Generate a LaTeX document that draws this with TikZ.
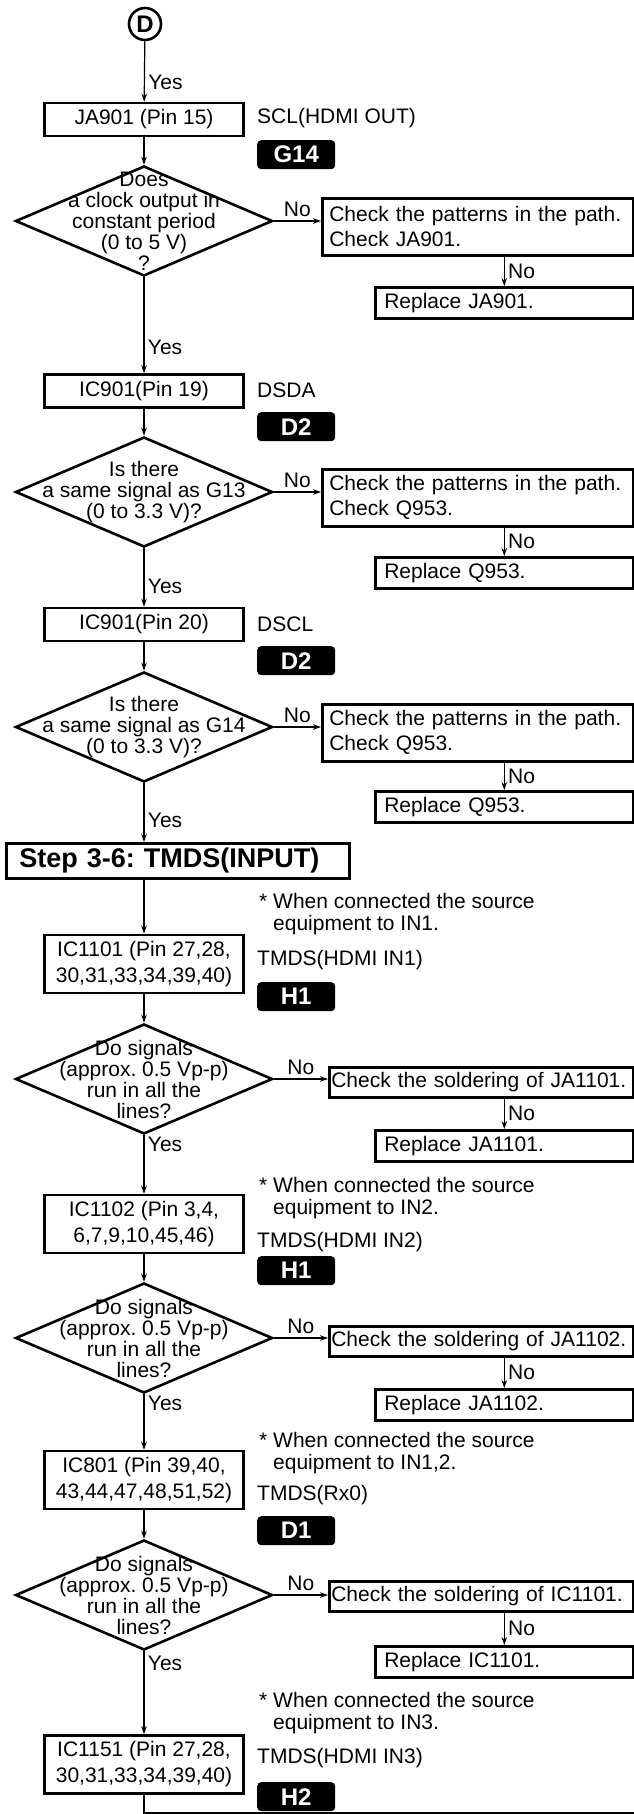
\documentclass[tikz,border=0pt]{standalone}
\usepackage{fontspec}
\setmainfont{Liberation Sans}
\usetikzlibrary{shapes.geometric,arrows.meta}

\begin{document}
\frenchspacing
\begin{tikzpicture}[x=1pt, y=-1pt, >={Stealth[length=8pt,width=5.5pt]},
	every node/.style={font=\fontsize{21}{25}\selectfont},
	flow/.style={->, line width=1.2pt},
	box/.style={draw, line width=2.6pt, minimum width=199pt, minimum height=33pt, inner sep=0pt, align=center},
	tallbox/.style={box, minimum height=58pt, font=\fontsize{21}{26}\selectfont},
	dia/.style={draw, diamond, line width=2.6pt, minimum width=257pt, minimum height=110pt, inner sep=0pt},
	diatext/.style={align=center, inner sep=0pt, font=\fontsize{21}{21}\selectfont},
	chkbox/.style={draw, line width=2.6pt, anchor=north west, minimum width=311pt, minimum height=57pt, inner xsep=7pt, inner ysep=0pt, text width=297pt, align=left},
	solbox/.style={draw, line width=2.6pt, anchor=north west, minimum width=304pt, minimum height=30pt, inner xsep=2pt, inner ysep=0pt, text width=300pt, align=left},
	repbox/.style={draw, line width=2.6pt, anchor=north west, minimum width=258pt, minimum height=31pt, inner xsep=9pt, inner ysep=0pt, text width=240pt, align=left},
	badge/.style={fill=black, rounded corners=4pt, anchor=north west, minimum width=78pt, minimum height=29pt, inner sep=0pt, text=white, font=\bfseries\fontsize{24}{24}\selectfont},
	side/.style={anchor=west, inner sep=0pt},
	note/.style={anchor=west, inner sep=0pt, align=left, font=\fontsize{21}{22}\selectfont}]
	\useasboundingbox (0,0) rectangle (634,1814);

	\node[circle, draw, line width=2.6pt, minimum size=32pt, inner sep=0pt, font=\bfseries\fontsize{24}{24}\selectfont] (D) at (145,24) {D};
	\node[box] (b1) at (144,119.5) {JA901 (Pin 15)};
	\node[side] (l1) at (257,118) {SCL(HDMI OUT)};
	\node[badge] (g1) at (257,140) {G14};
	\node[dia] (d1) at (144,221) {};
	\node[diatext] (t1) at (d1) {Does\\a clock output in\\constant period\\(0 to 5 V)\\?};
	\node[chkbox] (c1) at (321,197) {Check the patterns in the path.\\Check JA901.};
	\node[repbox] (r1) at (374,286) {Replace JA901.};

	\node[box] (b2) at (144,391) {IC901(Pin 19)};
	\node[side] (l2) at (257,390) {DSDA};
	\node[badge] (g2) at (257,412) {D2};
	\node[dia] (d2) at (144,492) {};
	\node[diatext] (t2) at (d2) {Is there\\a same signal as G13\\(0 to 3.3 V)?};
	\node[chkbox] (c2) at (321,468) {Check the patterns in the path.\\Check Q953.};
	\node[repbox] (r2) at (374,556) {Replace Q953.};

	\node[box] (b3) at (144,624.5) {IC901(Pin 20)};
	\node[side] (l3) at (257,624) {DSCL};
	\node[badge] (g3) at (257,646) {D2};
	\node[dia] (d3) at (144,727) {};
	\node[diatext] (t3) at (d3) {Is there\\a same signal as G14\\(0 to 3.3 V)?};
	\node[chkbox] (c3) at (321,703) {Check the patterns in the path.\\Check Q953.};
	\node[repbox] (r3) at (374,790) {Replace Q953.};

	\node[draw, line width=2.6pt, anchor=north west, minimum width=343pt, minimum height=35pt, inner xsep=13pt, inner ysep=0pt, text width=317pt, align=left, font=\bfseries\fontsize{27}{27}\selectfont] (step) at (5,842) {Step 3-6: TMDS(INPUT)};

	\node[note] (n4) at (259,914) {* When connected the source\\\hphantom{* }equipment to IN1.};
	\node[tallbox] (b4) at (144,964) {IC1101 (Pin 27,28,\\30,31,33,34,39,40)};
	\node[side] (l4) at (257,960) {TMDS(HDMI IN1)};
	\node[badge] (g4) at (257,982) {H1};
	\node[dia] (d4) at (144,1079) {};
	\node[diatext] (t4) at (d4) {Do signals\\(approx. 0.5 Vp-p)\\run in all the\\lines?};
	\node[solbox] (c4) at (328,1066) {Check the soldering of JA1101.};
	\node[repbox] (r4) at (374,1129) {Replace JA1101.};

	\node[note] (n5) at (259,1198) {* When connected the source\\\hphantom{* }equipment to IN2.};
	\node[tallbox] (b5) at (144,1224) {IC1102 (Pin 3,4,\\6,7,9,10,45,46)};
	\node[side] (l5) at (257,1242) {TMDS(HDMI IN2)};
	\node[badge] (g5) at (257,1256) {H1};
	\node[dia] (d5) at (144,1338) {};
	\node[diatext] (t5) at (d5) {Do signals\\(approx. 0.5 Vp-p)\\run in all the\\lines?};
	\node[solbox] (c5) at (328,1325) {Check the soldering of JA1102.};
	\node[repbox] (r5) at (374,1388) {Replace JA1102.};

	\node[note] (n6) at (259,1453) {* When connected the source\\\hphantom{* }equipment to IN1,2.};
	\node[tallbox] (b6) at (144,1480) {IC801 (Pin 39,40,\\43,44,47,48,51,52)};
	\node[side] (l6) at (257,1495) {TMDS(Rx0)};
	\node[badge] (g6) at (257,1516) {D1};
	\node[dia] (d6) at (144,1595) {};
	\node[diatext] (t6) at (d6) {Do signals\\(approx. 0.5 Vp-p)\\run in all the\\lines?};
	\node[solbox] (c6) at (328,1580) {Check the soldering of IC1101.};
	\node[repbox] (r6) at (374,1645) {Replace IC1101.};

	\node[note] (n7) at (259,1713) {* When connected the source\\\hphantom{* }equipment to IN3.};
	\node[tallbox] (b7) at (144,1764.5) {IC1151 (Pin 27,28,\\30,31,33,34,39,40)};
	\node[side] (l7) at (257,1758) {TMDS(HDMI IN3)};
	\node[badge] (g7) at (257,1782) {H2};
	\coordinate (out) at (634,1813);

	\draw[flow] (D) -- (b1) node[pos=0.68, right] {Yes};
	\draw[flow] (b1) -- (d1);
	\draw[flow] (d1.east) -- (d1.east -| c1.west) node[midway, above] {No};
	\draw[flow] (r1.north |- c1.south) -- (r1.north) node[midway, right] {No};
	\draw[flow] (d1.south) -- (b2.north) node[pos=0.73, right] {Yes};
	\draw[flow] (b2) -- (d2);
	\draw[flow] (d2.east) -- (d2.east -| c2.west) node[midway, above] {No};
	\draw[flow] (r2.north |- c2.south) -- (r2.north) node[midway, right] {No};
	\draw[flow] (d2.south) -- (b3.north) node[pos=0.66, right] {Yes};
	\draw[flow] (b3) -- (d3);
	\draw[flow] (d3.east) -- (d3.east -| c3.west) node[midway, above] {No};
	\draw[flow] (r3.north |- c3.south) -- (r3.north) node[midway, right] {No};
	\draw[flow] (d3.south) -- (d3.south |- step.north) node[pos=0.63, right] {Yes};
	\draw[flow] (b4.north |- step.south) -- (b4.north);
	\draw[flow] (b4) -- (d4);
	\draw[flow] (d4.east) -- (d4.east -| c4.west) node[midway, above] {No};
	\draw[flow] (r4.north |- c4.south) -- (r4.north) node[midway, right] {No};
	\draw[flow] (d4.south) -- (b5.north) node[pos=0.15, right] {Yes};
	\draw[flow] (b5) -- (d5);
	\draw[flow] (d5.east) -- (d5.east -| c5.west) node[midway, above] {No};
	\draw[flow] (r5.north |- c5.south) -- (r5.north) node[midway, right] {No};
	\draw[flow] (d5.south) -- (b6.north) node[pos=0.16, right] {Yes};
	\draw[flow] (b6) -- (d6);
	\draw[flow] (d6.east) -- (d6.east -| c6.west) node[midway, above] {No};
	\draw[flow] (r6.north |- c6.south) -- (r6.north) node[midway, right] {No};
	\draw[flow] (d6.south) -- (b7.north) node[pos=0.15, right] {Yes};
	\draw[line width=1.2pt] (b7.south) |- (out);
\end{tikzpicture}
\end{document}
